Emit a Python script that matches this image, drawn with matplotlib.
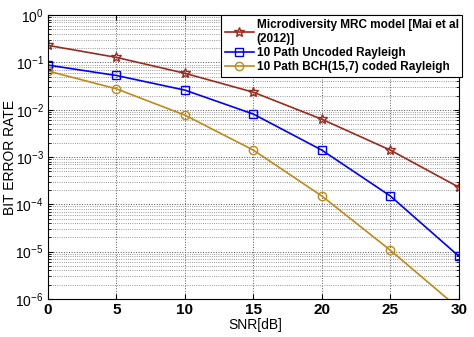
import matplotlib
matplotlib.use('Agg')
matplotlib.rcParams['font.family'] = 'Liberation Sans'
matplotlib.rcParams['font.size'] = 9
matplotlib.rcParams['mathtext.fontset'] = 'custom'
matplotlib.rcParams['mathtext.rm'] = 'Liberation Sans:bold'
matplotlib.rcParams['mathtext.default'] = 'rm'

import matplotlib.pyplot as plt

snr = [0, 5, 10, 15, 20, 25, 30]
ber_mrc = [0.23, 0.128, 0.059, 0.0235, 0.0063, 0.0014, 2.3e-4]
ber_uncoded = [0.088, 0.053, 0.026, 0.0081, 0.0014, 1.5e-4, 8e-6]
ber_bch = [0.066, 0.0277, 0.0077, 0.0014, 1.5e-4, 1.07e-5, 6.3e-7]

labels = ['Microdiversity MRC model [Mai et al\n(2012)]',
          '10 Path Uncoded Rayleigh',
          '10 Path BCH(15,7) coded Rayleigh']

fig = plt.figure(figsize=(4.74, 3.37), dpi=100)
ax = fig.add_axes([0.101, 0.113, 0.867, 0.842])

ax.semilogy(snr, ber_mrc, '-*', color='#9c2a1e', lw=1.2, ms=7,
            mfc='none', mew=1.0, label=labels[0])
ax.semilogy(snr, ber_uncoded, '-s', color='#0000ff', lw=1.2, ms=6,
            mfc='none', mew=1.0, label=labels[1])
ax.semilogy(snr, ber_bch, '-o', color='#c08a1a', lw=1.2, ms=6,
            mfc='none', mew=1.0, label=labels[2])

ax.set_xlim(0, 30)
ax.set_ylim(1e-6, 1)
ax.set_xticks([0, 5, 10, 15, 20, 25, 30])
ax.grid(True, which='major', ls=':', color='#555555', lw=0.7)
ax.grid(True, which='minor', axis='y', ls=':', color='#777777', lw=0.6)
ax.tick_params(which='both', direction='in', top=True, right=True)
ax.tick_params(axis='x', which='minor', bottom=False, top=False)
ax.tick_params(axis='x', pad=3)
ax.tick_params(axis='y', labelsize=10, pad=3)
for lab in ax.get_xticklabels():
    lab.set_fontweight('bold')
    lab.set_fontsize(11)

ax.set_xlabel('SNR[dB]', fontsize=10)
ax.set_ylabel('BIT ERROR RATE', fontsize=10)
ax.xaxis.set_label_coords(0.504, -0.068)
ax.yaxis.set_label_coords(-0.076, 0.5)

leg = ax.legend(loc='upper right', fontsize=8.5, handlelength=2.5,
                handletextpad=0.2, borderaxespad=0, borderpad=0.3,
                labelspacing=0.2, fancybox=False, framealpha=1,
                edgecolor='black', bbox_to_anchor=(1.008, 1.0))
leg.get_frame().set_linewidth(0.8)
for t in leg.get_texts():
    t.set_fontweight('bold')

fig.savefig('out.png', dpi=100)
